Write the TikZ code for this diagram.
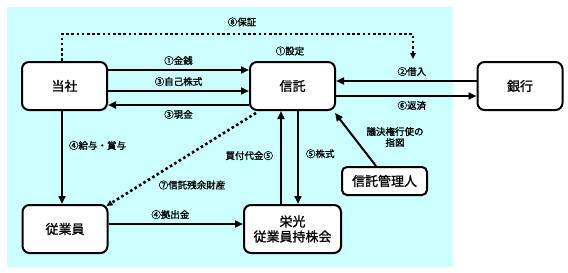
\documentclass[tikz,border=0pt]{standalone}
\usepackage{fontspec}
\setmainfont{Noto Sans CJK JP}
\newfontfamily\medfont{Noto Sans CJK JP}[AutoFakeBold=1.2]
\newfontfamily\labfont{Noto Sans CJK JP}[AutoFakeBold=1.6]
\usetikzlibrary{arrows.meta,calc}
\definecolor{bgc}{RGB}{204,255,255}
\begin{document}
\begin{tikzpicture}[x=1pt,y=-1pt,
 box/.style={draw,line width=2pt,rounded corners=7pt,fill=white,minimum width=85pt,minimum height=48pt,font=\medfont\bfseries\fontsize{13}{15}\selectfont,inner sep=0pt,align=center},
 lab/.style={font=\labfont\bfseries\fontsize{9.5}{11}\selectfont,inner sep=1pt,align=center},
 arr/.style={line width=2pt,-{Triangle[length=8pt,width=7pt]}},
 dotarr/.style={line width=2.6pt,dash pattern=on 2.6pt off 2.6pt,-{Triangle[length=6pt,width=5.5pt]}}]
\useasboundingbox (0,0) rectangle (568,273);
\fill[bgc] (7,7) rectangle (453,267);
\node[box] (tosha) at (64.5,86) {当社};
\node[box] (trust) at (292.5,86) {信託};
\node[box] (bank) at (520,86) {銀行};
\node[box] (emp) at (65,229) {従業員};
\node[box,minimum width=97pt] (esop) at (292.5,229) {栄光\\従業員持株会};
\node[box,minimum height=28pt,rounded corners=5pt] (mgr) at (384.5,181) {信託管理人};
% labels not on lines
\node[lab] (l1) at (290,51) {①設定};
\node[lab] (l8) at (242,22) {⑧保証};
\node[lab] (l7) at (192,185) {⑦信託残余財産};
\node[lab] (lm) at (395,137) {議決権行使の\\指図};
\coordinate (g) at (413,59);
% arrows
\draw[arr] ([yshift=16pt]tosha.east) -- ([yshift=16pt]trust.west) node[lab,midway,above=3pt]{①金銭};
\draw[arr] ([yshift=-5pt]tosha.east) -- ([yshift=-5pt]trust.west) node[lab,midway,above=3pt]{③自己株式};
\draw[arr] ([yshift=-19pt]trust.west) -- ([yshift=-19pt]tosha.east) node[lab,midway,below=3pt]{③現金};
\draw[arr] ([yshift=5pt]bank.west) -- ([yshift=5pt]trust.east) node[lab,pos=0.46,above=3pt]{②借入};
\draw[arr] ([yshift=-10pt]trust.east) -- ([yshift=-10pt]bank.west) node[lab,pos=0.54,below=3pt]{⑥返済};
\draw[dotarr] ([xshift=-2.5pt]tosha.north) |- ($(g)+(0,-25)$) -- (g);
\draw[arr] ([xshift=-2.5pt]tosha.south) -- ([xshift=-3pt]emp.north) node[lab,pos=0.37,right=5pt]{④給与・賞与};
\draw[arr] ([yshift=5pt]emp.east) -- ([yshift=5pt]esop.west) node[lab,pos=0.46,above=3pt]{④拠出金};
\draw[dotarr] ([xshift=7pt,yshift=-2pt]trust.south west) -- ([xshift=-2pt,yshift=-2pt]emp.north east);
\draw[arr] ([xshift=-11.5pt]esop.north) -- ([xshift=-11.5pt]trust.south) node[lab,pos=0.52,left=6pt]{買付代金⑤};
\draw[arr] ([xshift=5.5pt]trust.south) -- ([xshift=5.5pt]esop.north) node[lab,pos=0.46,right=6pt]{⑤株式};
\draw[arr] ([xshift=-8.5pt]mgr.north) -- ([xshift=-1pt,yshift=-2pt]trust.south east);
\end{tikzpicture}
\end{document}
